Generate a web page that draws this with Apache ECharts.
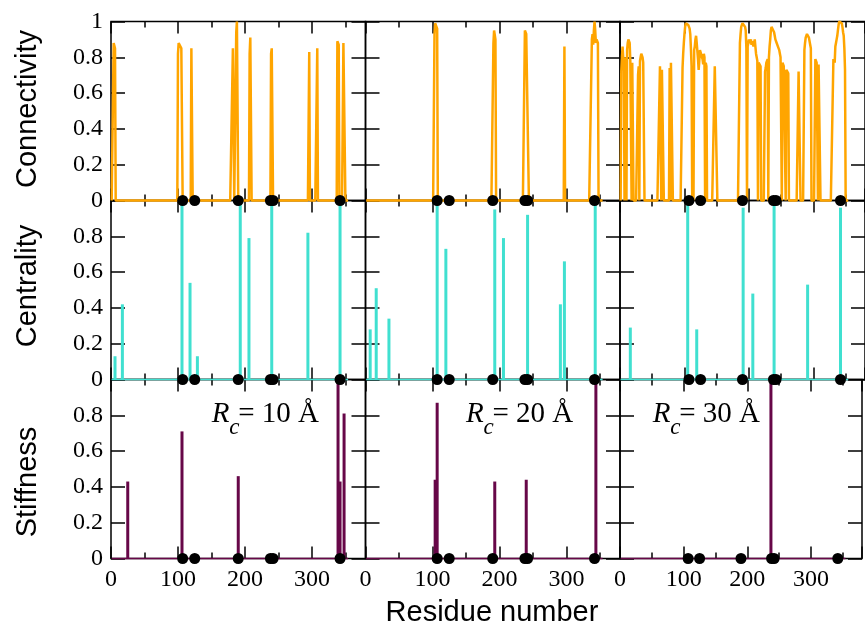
<!DOCTYPE html>
<html>
<head>
<meta charset="utf-8">
<script src="https://cdn.jsdelivr.net/npm/echarts@6/dist/echarts.min.js"></script>
<style>
  html, body { margin: 0; padding: 0; background: #fff; }
  #chart { width: 865px; height: 627px; }
</style>
</head>
<body>
<div id="chart"></div>
<script>
// Residue-level profiles for three cutoff radii (sparse: [residue, value], zero elsewhere)
const residueCount = 354;
const cutoffRadii = [10, 20, 30];
const rowTitles = ['Connectivity', 'Centrality', 'Stiffness'];
const xTickLabels = [0, 100, 200, 300];
const yTickLabels = [0, 0.2, 0.4, 0.6, 0.8, 1];
const hingeResidues = [107, 125, 190, 238, 242, 342];

const connectivity10 = [
  [4, 0.88], [5, 0.88], [6, 0.85],
  [100, 0.82], [101, 0.88], [102, 0.88], [103, 0.88], [104, 0.88], [105, 0.85], [106, 0.85],
  [120, 0.85], [121, 0.85],
  [182, 0.85], [183, 0.85],
  [187, 0.94], [188, 1.0], [189, 1.0],
  [207, 0.82], [208, 0.91], [209, 0.91],
  [239, 0.82], [240, 0.85], [241, 0.85],
  [296, 0.83],
  [308, 0.85],
  [338, 0.89], [339, 0.89], [340, 0.87],
  [347, 0.88], [348, 0.88], [349, 0.87]
];
const connectivity20 = [
  [103, 0.93], [104, 0.99], [105, 1.0], [106, 0.98], [107, 0.96],
  [191, 0.88], [192, 0.95], [193, 0.95], [194, 0.9],
  [238, 0.95], [239, 0.94], [240, 0.93], [241, 0.93], [242, 0.93], [243, 0.93],
  [297, 0.86],
  [338, 0.9], [339, 0.93], [340, 0.87], [341, 0.95], [342, 1.0], [343, 0.95],
  [344, 0.88], [345, 0.9], [346, 0.9], [347, 0.88]
];
const connectivity30 = [
  [2, 0.72], [3, 0.8], [4, 0.86], [5, 0.86], [6, 0.74], [8, 0.8], [9, 0.76],
  [11, 0.84], [12, 0.88], [13, 0.9], [14, 0.91], [15, 0.88], [16, 0.78], [17, 0.77],
  [19, 0.77], [20, 0.76],
  [28, 0.7], [29, 0.75], [31, 0.78], [32, 0.8], [33, 0.82], [34, 0.82], [35, 0.8], [36, 0.77], [37, 0.76],
  [62, 0.75], [63, 0.75], [65, 0.73], [66, 0.72], [67, 0.72],
  [77, 0.74], [79, 0.77], [80, 0.77], [81, 0.76],
  [97, 0.74], [98, 0.82], [99, 0.88], [100, 0.93], [101, 0.97], [102, 0.99], [103, 1.0], [104, 1.0],
  [105, 0.99], [106, 0.98], [107, 0.97], [108, 0.96], [109, 0.93], [110, 0.85], [111, 0.75], [113, 0.7],
  [115, 0.84], [116, 0.86], [117, 0.9], [118, 0.92], [119, 0.88], [120, 0.87], [121, 0.79], [122, 0.73],
  [123, 0.78], [124, 0.84], [125, 0.85], [126, 0.83], [127, 0.84], [128, 0.79], [129, 0.76], [130, 0.82],
  [131, 0.8], [133, 0.77], [134, 0.75],
  [147, 0.75], [148, 0.76], [149, 0.76], [150, 0.75],
  [186, 0.88], [187, 0.93], [188, 0.97], [189, 0.98], [190, 0.99], [191, 1.0], [192, 1.0], [193, 0.99],
  [194, 0.97], [195, 0.95], [196, 0.85],
  [198, 0.86], [199, 0.88], [200, 0.9], [201, 0.88], [202, 0.89], [203, 0.9], [204, 0.87], [205, 0.89],
  [206, 0.88], [207, 0.86], [208, 0.88], [209, 0.9], [210, 0.86], [211, 0.82], [212, 0.8], [213, 0.78],
  [215, 0.77], [216, 0.76], [217, 0.76], [218, 0.75],
  [225, 0.72], [226, 0.74], [227, 0.77], [228, 0.78], [229, 0.79], [231, 0.8], [232, 0.86], [233, 0.9],
  [234, 0.95], [235, 0.97], [236, 0.98], [237, 0.97], [238, 0.96], [239, 0.94], [240, 0.92], [241, 0.9],
  [242, 0.89], [243, 0.88], [244, 0.87], [245, 0.86], [246, 0.85], [247, 0.84], [248, 0.82], [249, 0.8],
  [250, 0.79], [252, 0.77], [253, 0.76], [254, 0.75], [255, 0.74], [256, 0.74], [258, 0.73], [259, 0.72],
  [260, 0.72], [261, 0.71],
  [277, 0.72], [278, 0.72], [279, 0.72],
  [286, 0.84], [287, 0.88], [288, 0.91], [289, 0.92], [290, 0.93], [291, 0.93], [292, 0.92], [293, 0.91],
  [294, 0.9], [295, 0.87], [296, 0.85],
  [303, 0.79], [304, 0.78], [305, 0.77], [306, 0.77], [308, 0.76], [309, 0.76], [310, 0.75],
  [331, 0.79], [332, 0.78], [333, 0.77], [334, 0.86], [335, 0.88], [336, 0.9], [337, 0.92], [338, 0.95],
  [339, 0.98], [340, 1.0], [341, 1.0], [342, 1.0], [343, 1.0], [344, 0.99], [345, 0.97], [346, 0.94],
  [347, 0.92], [348, 0.85], [349, 0.73]
];

const centrality10 = [[6, 0.13], [17, 0.42], [106, 1.0], [118, 0.54], [129, 0.13], [193, 0.99], [206, 0.79], [240, 0.98], [294, 0.82], [342, 0.99]];
const centrality20 = [[7, 0.28], [16, 0.51], [35, 0.34], [107, 1.0], [120, 0.73], [193, 0.95], [206, 0.79], [242, 0.92], [291, 0.42], [297, 0.66], [343, 1.0]];
const centrality30 = [[16, 0.29], [105, 1.0], [119, 0.28], [191, 0.96], [206, 0.48], [239, 0.98], [291, 0.53], [342, 0.96]];

const stiffness10 = [[25, 0.43], [106, 0.71], [190, 0.46], [339, 1.0], [342, 0.43], [348, 0.81]];
const stiffness20 = [[104, 0.44], [107, 0.87], [193, 0.43], [240, 0.44], [344, 1.0]];
const stiffness30 = [[237, 1.0]];

const connectivityByRadius = [connectivity10, connectivity20, connectivity30];
const centralityByRadius = [centrality10, centrality20, centrality30];
const stiffnessByRadius = [stiffness10, stiffness20, stiffness30];

// ---- layout & styling ----
const COLORS = { connectivity: '#FFA500', centrality: '#40E0D0', stiffness: '#670748' };
const colLeft = [111, 365.5, 620];
const COL_W = 254.5;
const rowTop = [21.5, 200.5, 379.5];
const ROW_H = 179;
const X_MAX = 380;
const SERIF = '"Liberation Serif", "Times New Roman", serif';
const SANS = '"Liberation Sans", Arial, sans-serif';

function fullProfile(pairs) {
  const lookup = new Map(pairs);
  const out = [];
  for (let r = 1; r <= residueCount; r++) out.push([r, lookup.has(r) ? lookup.get(r) : 0]);
  return out;
}

function xAxisDef(gridIndex, position, interval, tickLen, showLabels) {
  return {
    type: 'value', gridIndex, position, min: 0, max: X_MAX, interval,
    axisLine: { show: false, onZero: false },
    splitLine: { show: false },
    axisTick: { show: true, inside: true, length: tickLen, lineStyle: { color: '#000', width: 1.5 } },
    axisLabel: {
      show: showLabels, margin: 9, color: '#000', fontFamily: SERIF, fontSize: 24,
      formatter: v => (xTickLabels.indexOf(v) >= 0 ? String(v) : '')
    }
  };
}

function yAxisDef(gridIndex, position, showLabels, showTopLabel) {
  return {
    type: 'value', gridIndex, position, min: 0, max: 1, interval: 0.2,
    axisLine: { show: false, onZero: false },
    splitLine: { show: false },
    axisTick: { show: true, inside: true, length: 14, lineStyle: { color: '#000', width: 1.5 } },
    axisLabel: {
      show: showLabels, margin: 8, color: '#000', fontFamily: SERIF, fontSize: 24,
      formatter: v => {
        const t = +v.toFixed(1);
        if (t === 1 && !showTopLabel) return '';
        return yTickLabels.indexOf(t) >= 0 ? String(t) : '';
      }
    }
  };
}

const grids = [], xAxes = [], yAxes = [], series = [];

for (let row = 0; row < 3; row++) {
  for (let col = 0; col < 3; col++) {
    const g = grids.length;
    grids.push({
      left: colLeft[col], top: rowTop[row], width: COL_W, height: ROW_H,
      show: true, borderColor: '#000', borderWidth: 1.5, backgroundColor: 'transparent'
    });
    const xi = xAxes.length;
    xAxes.push(xAxisDef(g, 'bottom', 100, 12, row === 2));
    xAxes.push(xAxisDef(g, 'bottom', 50, 6, false));
    xAxes.push(xAxisDef(g, 'top', 100, 12, false));
    xAxes.push(xAxisDef(g, 'top', 50, 6, false));
    const yi = yAxes.length;
    yAxes.push(yAxisDef(g, 'left', col === 0, row === 0));
    yAxes.push(yAxisDef(g, 'right', false, false));

    if (row === 0) {
      series.push({
        type: 'line', xAxisIndex: xi, yAxisIndex: yi,
        data: fullProfile(connectivityByRadius[col]),
        symbol: 'none', clip: false, animation: false,
        lineStyle: { color: COLORS.connectivity, width: 2.5 }, z: 3
      });
    } else {
      const color = row === 1 ? COLORS.centrality : COLORS.stiffness;
      const bars = row === 1 ? centralityByRadius[col] : stiffnessByRadius[col];
      series.push({
        type: 'line', xAxisIndex: xi, yAxisIndex: yi,
        data: [[1, 0], [residueCount, 0]],
        symbol: 'none', clip: false, animation: false,
        lineStyle: { color, width: 1.5 }, z: 2
      });
      series.push({
        type: 'bar', xAxisIndex: xi, yAxisIndex: yi,
        data: bars, barWidth: 3, clip: false, animation: false,
        itemStyle: { color }, z: 3
      });
    }
    series.push({
      type: 'scatter', xAxisIndex: xi, yAxisIndex: yi,
      data: hingeResidues.map(r => [r, 0]),
      symbol: 'circle', symbolSize: 11, clip: false, animation: false,
      itemStyle: { color: '#000', opacity: 1 }, z: 10
    });
  }
}

// axis titles and cutoff annotations
const graphics = [];
const titleCenters = [109, 286, 482];
rowTitles.forEach((t, i) => {
  graphics.push({
    type: 'text', x: 28, y: titleCenters[i], rotation: Math.PI / 2,
    style: { text: t, font: '29px ' + SANS, fill: '#000', align: 'center', verticalAlign: 'middle', textAlign: 'center', textVerticalAlign: 'middle' }
  });
});
graphics.push({
  type: 'text', x: 492, y: 613,
  style: { text: 'Residue number', font: '29px ' + SANS, fill: '#000', align: 'center', verticalAlign: 'middle', textAlign: 'center', textVerticalAlign: 'middle' }
});

const labelOffsets = [100.7, 100.5, 32.7];
cutoffRadii.forEach((rc, col) => {
  const x0 = colLeft[col] + labelOffsets[col];
  const base = { fill: '#000', align: 'left', verticalAlign: 'middle', textAlign: 'left', textVerticalAlign: 'middle' };
  graphics.push({
    type: 'group', x: x0, y: 414,
    children: [
      { type: 'text', x: 0, y: 0, style: Object.assign({ text: 'R', font: 'italic 29px ' + SERIF }, base) },
      { type: 'text', x: 17.5, y: 14, style: Object.assign({ text: 'c', font: 'italic 23px ' + SERIF }, base) },
      { type: 'text', x: 26.5, y: 0, style: Object.assign({ text: '= ' + rc + ' Å', font: '29px ' + SERIF }, base) }
    ]
  });
});

const chart = echarts.init(document.getElementById('chart'), null, { renderer: 'canvas' });
chart.setOption({
  animation: false,
  backgroundColor: '#fff',
  grid: grids,
  xAxis: xAxes,
  yAxis: yAxes,
  series,
  graphic: graphics
});
</script>
</body>
</html>
